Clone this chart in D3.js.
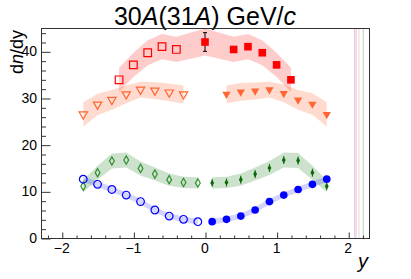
<!DOCTYPE html>
<html>
<head>
<meta charset="utf-8">
<script src="https://cdn.jsdelivr.net/npm/d3@7"></script>
<style>
    body { margin: 0; background: #fff; }
    text { font-family: "Liberation Sans", Arial, sans-serif; fill: #000; }
</style>
</head>
<body>
<div id="chart"></div>
<script>

// rapidity bins
let xRed = [-1.2, -1.0, -0.8, -0.6, -0.4, 0, 0.4, 0.6, 0.8, 1.0, 1.2];
let xOrange = [-1.7, -1.5, -1.3, -1.1, -0.9, -0.7, -0.5, -0.3, 0.3, 0.5, 0.7, 0.9, 1.1, 1.3, 1.5, 1.7];
let xWide = [-1.7, -1.5, -1.3, -1.1, -0.9, -0.7, -0.5, -0.3, -0.1, 0.1, 0.3, 0.5, 0.7, 0.9, 1.1, 1.3, 1.5, 1.7];

// dn/dy values and systematic errors (bands)
let redVals = [33.9, 37.1, 39.7, 41.0, 40.4, 42.0, 40.4, 41.0, 39.7, 37.1, 33.9];
let redSys = [2.6, 2.6, 2.7, 2.7, 2.7, 2.9, 2.7, 2.7, 2.7, 2.6, 2.6];
let redStat = [0, 0, 0, 0, 0, 2.0, 0, 0, 0, 0, 0];

let orangeVals = [26.5, 28.6, 29.6, 30.8, 31.8, 31.6, 31.2, 30.8, 30.8, 31.3, 31.5, 31.8, 31.0, 29.6, 28.7, 26.5];
let orangeSys = [2.6, 2.3, 2.1, 1.9, 1.7, 1.8, 1.9, 1.9, 1.9, 1.9, 1.8, 1.7, 1.9, 2.1, 2.3, 2.6];

let greenVals = [11.1, 14.0, 16.5, 16.7, 14.9, 13.7, 12.5, 11.9, 11.8, 11.8, 11.9, 12.5, 13.7, 15.0, 16.7, 16.6, 14.0, 11.1];
let greenSys = [1.3, 1.5, 1.6, 1.6, 1.5, 1.4, 1.3, 1.2, 1.2, 1.2, 1.2, 1.3, 1.4, 1.5, 1.6, 1.6, 1.5, 1.3];

let blueVals = [12.6, 11.5, 10.4, 9.2, 7.8, 6.0, 4.7, 4.0, 3.5, 3.5, 4.0, 4.7, 6.0, 7.8, 9.2, 10.4, 11.5, 12.6];
let blueSys = [0.6, 0.6, 0.6, 0.6, 0.6, 0.6, 0.6, 0.6, 0.6, 0.6, 0.6, 0.6, 0.6, 0.6, 0.6, 0.6, 0.6, 0.6];

// leftover band edges at the right of the frame
let edgeLines = [2.09, 2.11, 2.15, 2.21];
let edgeColors = ['#f7c9d2', '#d6d6fb', '#fbdccd', '#c9dcc9'];

let yTicks = [0, 10, 20, 30, 40];
let xTicks = [-2, -1, 0, 1, 2];


class RapidityVis {

    constructor(parentElement){
        this.parentElement = parentElement;
        this.initVis();
    }

    initVis(){
        let vis = this;

        vis.width = 411;
        vis.height = 279;
        vis.frame = {left: 41, right: 369, top: 28, bottom: 238};

        vis.svg = d3.select("#" + vis.parentElement).append("svg")
            .attr("width", vis.width)
            .attr("height", vis.height);

        vis.x = d3.scaleLinear()
            .domain([-2.29, 2.29])
            .range([vis.frame.left, vis.frame.right]);

        vis.y = d3.scaleLinear()
            .domain([0, 45])
            .range([vis.frame.bottom, vis.frame.top]);

        // title
        let title = vis.svg.append("text")
            .attr("x", 205)
            .attr("y", 25)
            .attr("text-anchor", "middle")
            .style("font-size", "25px");
        title.append("tspan").text("30");
        title.append("tspan").style("font-style", "italic").text("A");
        title.append("tspan").text("(31");
        title.append("tspan").style("font-style", "italic").text("A");
        title.append("tspan").text(") GeV/");
        title.append("tspan").style("font-style", "italic").text("c");

        // axis titles
        let ylab = vis.svg.append("text")
            .attr("transform", "translate(23,30) rotate(-90)")
            .attr("text-anchor", "end")
            .style("font-size", "18px");
        ylab.append("tspan").text("d");
        ylab.append("tspan").style("font-style", "italic").text("n");
        ylab.append("tspan").text("/dy");

        vis.svg.append("text")
            .attr("x", 368)
            .attr("y", 268)
            .attr("text-anchor", "end")
            .style("font-size", "20px")
            .style("font-style", "italic")
            .text("y");

        vis.wrangleData();
    }

    wrangleData(){
        let vis = this;

        let pack = (xs, vals, sys, stat) => xs.map((x, i) => ({
            x: x, v: vals[i], s: sys[i], e: stat ? stat[i] : 0
        }));

        vis.red = pack(xRed, redVals, redSys, redStat);
        vis.orange = pack(xOrange, orangeVals, orangeSys);
        vis.green = pack(xWide, greenVals, greenSys);
        vis.blue = pack(xWide, blueVals, blueSys);

        vis.updateVis();
    }

    drawBand(data, fill){
        let vis = this;
        let area = d3.area()
            .x(d => vis.x(d.x))
            .y0(d => vis.y(d.v - d.s))
            .y1(d => vis.y(d.v + d.s));
        vis.svg.append("path")
            .datum(data)
            .attr("d", area)
            .attr("fill", fill)
            .attr("stroke", "none");
    }

    drawMarkers(data, type, size, color, rotate){
        let vis = this;
        let sym = d3.symbol().type(type).size(size);
        vis.svg.append("g").selectAll("path")
            .data(data)
            .enter()
            .append("path")
            .attr("d", sym)
            .attr("transform", d => `translate(${vis.x(d.x)},${vis.y(d.v)})` + (rotate ? " rotate(180)" : ""))
            .attr("fill", d => d.x < 0 ? "none" : color)
            .attr("stroke", color)
            .attr("stroke-width", d => d.x < 0 ? 1.2 : 0);
    }

    updateVis(){
        let vis = this;

        // edge lines
        vis.svg.selectAll(".edge")
            .data(edgeLines)
            .enter()
            .append("line")
            .attr("class", "edge")
            .attr("x1", d => vis.x(d))
            .attr("x2", d => vis.x(d))
            .attr("y1", vis.frame.top)
            .attr("y2", vis.frame.bottom)
            .attr("stroke", (d, i) => edgeColors[i])
            .attr("stroke-width", 1.3);

        // bands
        vis.drawBand(vis.red, "rgba(255,0,0,0.2)");
        vis.drawBand(vis.orange.filter(d => d.x < 0), "rgba(250,110,60,0.25)");
        vis.drawBand(vis.orange.filter(d => d.x > 0), "rgba(250,110,60,0.25)");
        vis.drawBand(vis.green.filter(d => d.x < 0), "rgba(0,110,0,0.2)");
        vis.drawBand(vis.green.filter(d => d.x > 0), "rgba(0,110,0,0.2)");
        vis.drawBand(vis.blue.filter(d => d.x < 0), "rgba(40,40,255,0.2)");
        vis.drawBand(vis.blue.filter(d => d.x > 0), "rgba(40,40,255,0.2)");

        // stat error bars
        let errs = vis.red.filter(d => d.e > 0);
        errs.forEach(d => {
            let g = vis.svg.append("g").attr("stroke", "#000").attr("stroke-width", 1);
            g.append("line").attr("x1", vis.x(d.x)).attr("x2", vis.x(d.x))
                .attr("y1", vis.y(d.v - d.e)).attr("y2", vis.y(d.v + d.e));
            g.append("line").attr("x1", vis.x(d.x) - 2).attr("x2", vis.x(d.x) + 2)
                .attr("y1", vis.y(d.v - d.e)).attr("y2", vis.y(d.v - d.e));
            g.append("line").attr("x1", vis.x(d.x) - 2).attr("x2", vis.x(d.x) + 2)
                .attr("y1", vis.y(d.v + d.e)).attr("y2", vis.y(d.v + d.e));
        });

        vis.svg.append("g").selectAll("line")
            .data(vis.green.filter(d => d.x > 0))
            .enter()
            .append("line")
            .attr("x1", d => vis.x(d.x))
            .attr("x2", d => vis.x(d.x))
            .attr("y1", d => vis.y(d.v) - 4)
            .attr("y2", d => vis.y(d.v) + 4)
            .attr("stroke", "#0a6a0a")
            .attr("stroke-width", 1);

        // markers
        vis.drawMarkers(vis.red, d3.symbolSquare, 58, "#ff0000", false);
        vis.drawMarkers(vis.orange, d3.symbolTriangle, 30, "#ff6633", true);
        vis.drawMarkers(vis.green.filter(d => d.x < 0), d3.symbolDiamond, 20, "#2f8f2f", false);
        vis.drawMarkers(vis.green.filter(d => d.x > 0), d3.symbolDiamond, 13, "#0a6a0a", false);
        vis.drawMarkers(vis.blue, d3.symbolCircle, 46, "#0000ff", false);

        // frame
        vis.svg.append("rect")
            .attr("x", vis.frame.left + 0.5)
            .attr("y", vis.frame.top + 0.5)
            .attr("width", vis.frame.right - vis.frame.left)
            .attr("height", vis.frame.bottom - vis.frame.top)
            .attr("fill", "none")
            .attr("stroke", "#333")
            .attr("stroke-width", 1);

        // y axis: major + minor ticks inside the frame
        let yAxis = d3.axisRight(vis.y)
            .tickValues(d3.range(0, 45, 2))
            .tickSize(4.5)
            .tickFormat("");
        vis.svg.append("g")
            .attr("transform", `translate(${vis.frame.left + 0.5},0.5)`)
            .call(yAxis)
            .call(g => g.select(".domain").remove())
            .selectAll("line")
            .attr("x2", d => d % 10 === 0 ? 9 : 4.5)
            .attr("stroke", "#333");

        vis.svg.append("g").selectAll("text")
            .data(yTicks)
            .enter()
            .append("text")
            .attr("x", 37)
            .attr("y", d => vis.y(d))
            .attr("dy", "0.36em")
            .attr("text-anchor", "end")
            .style("font-size", "14px")
            .text(d => d);

        // x axis
        let xAxis = d3.axisTop(vis.x)
            .tickValues(d3.range(-22, 23, 2).map(d => d / 10))
            .tickSize(3)
            .tickFormat("");
        vis.svg.append("g")
            .attr("transform", `translate(0.5,${vis.frame.bottom + 0.5})`)
            .call(xAxis)
            .call(g => g.select(".domain").remove())
            .selectAll("line")
            .attr("y2", d => Math.abs(d - Math.round(d)) < 1e-6 ? -6 : -3)
            .attr("stroke", "#333");

        vis.svg.append("g").selectAll("text")
            .data(xTicks)
            .enter()
            .append("text")
            .attr("x", d => vis.x(d))
            .attr("y", 253)
            .attr("text-anchor", "middle")
            .style("font-size", "14px")
            .text(d => d < 0 ? "\u2212" + Math.abs(d) : d);
    }
}

let rapidityVis = new RapidityVis("chart");

</script>
</body>
</html>
